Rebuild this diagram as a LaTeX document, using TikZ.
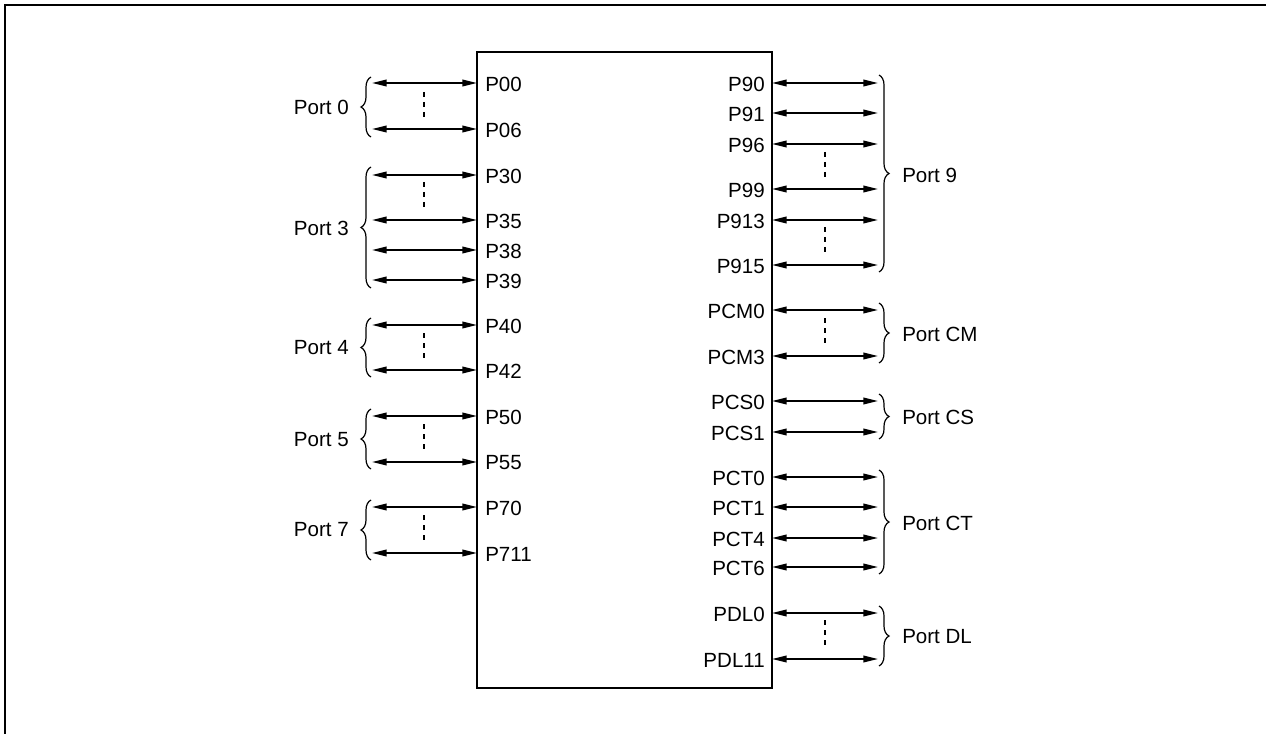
\documentclass[tikz,border=0pt]{standalone}
\usepackage{fontspec}
\setmainfont{Liberation Sans}
\usetikzlibrary{arrows.meta,decorations.pathreplacing}
\tikzset{
  pinarrow/.style={line width=1.15pt, {Triangle[length=11pt,width=5pt]}-{Triangle[length=11pt,width=5pt]}},
  dots/.style={line width=0.8pt, dash pattern=on 4pt off 3.5pt},
  brc/.style={line width=0.9pt, decorate, decoration={brace, amplitude=7.5pt}},
  lblL/.style={anchor=west, inner sep=0pt, font=\fontsize{15.4}{18}\selectfont},
  lblR/.style={anchor=east, inner sep=0pt, font=\fontsize{15.4}{18}\selectfont},
  portL/.style={anchor=east, inner sep=0pt, font=\fontsize{15.4}{18}\selectfont},
  portR/.style={anchor=west, inner sep=0pt, font=\fontsize{15.4}{18}\selectfont},
  chipbox/.style={draw, line width=1.9pt, inner sep=0pt, outer sep=0pt, minimum width=221.25pt, minimum height=477pt},
  frame/.style={line width=1.9pt}
}
\begin{document}
\begin{tikzpicture}[x=0.75pt,y=-0.75pt]
\useasboundingbox (0,0) rectangle (1266,734);
% outer frame
\coordinate (f1) at (5,740);
\coordinate (f2) at (5,5);
\coordinate (f3) at (1272,5);
\draw[frame] (f1) -- (f2) -- (f3);
% chip
\node[chipbox] (chip) at (624.5,370) {};
% left pins
\foreach \n/\y in {P00/83, P06/129, P30/175, P35/220, P38/250, P39/280, P40/325, P42/370, P50/416, P55/462, P70/507, P711/553}{
  \coordinate (a\n) at (372,\y);
  \coordinate (b\n) at (477,\y);
  \draw[pinarrow] (a\n) -- (b\n);
  \node[lblL] (t\n) at (485,\y+1) {\n};
}
% right pins
\foreach \n/\y in {P90/83, P91/113, P96/144, P99/189, P913/220, P915/265, PCM0/310, PCM3/356, PCS0/401, PCS1/432, PCT0/477, PCT1/507, PCT4/538, PCT6/567, PDL0/613, PDL11/659}{
  \coordinate (a\n) at (772,\y);
  \coordinate (b\n) at (878,\y);
  \draw[pinarrow] (a\n) -- (b\n);
  \node[lblR] (t\n) at (765,\y+1) {\n};
}
% dashed continuation marks
\draw[dots] (424,92) -- (424,118);
\draw[dots] (424,182) -- (424,208);
\draw[dots] (424,333) -- (424,360);
\draw[dots] (424,424) -- (424,450);
\draw[dots] (424,515) -- (424,541);
\draw[dots] (825,152) -- (825,178);
\draw[dots] (825,227) -- (825,253);
\draw[dots] (825,318) -- (825,344);
\draw[dots] (825,620) -- (825,647);
% left braces
\draw[brc] (371,137) -- (371,77);
\draw[brc] (371,288) -- (371,167);
\draw[brc] (371,377) -- (371,318);
\draw[brc] (371,469) -- (371,409);
\draw[brc] (371,560) -- (371,500);
\node[portL] (p0) at (349,107) {Port 0};
\node[portL] (p3) at (349,228) {Port 3};
\node[portL] (p4) at (349,348) {Port 4};
\node[portL] (p5) at (349,440) {Port 5};
\node[portL] (p7) at (349,530) {Port 7};
% right braces
\draw[brc] (879,75) -- (879,272);
\draw[brc] (879,303) -- (879,363);
\draw[brc] (879,394) -- (879,439);
\draw[brc] (879,470) -- (879,574);
\draw[brc] (879,606) -- (879,666);
\node[portR] (p9) at (902,175) {Port 9};
\node[portR] (pcm) at (902,334) {Port CM};
\node[portR] (pcs) at (902,417) {Port CS};
\node[portR] (pct) at (902,523) {Port CT};
\node[portR] (pdl) at (902,637) {Port DL};
\end{tikzpicture}
\end{document}
